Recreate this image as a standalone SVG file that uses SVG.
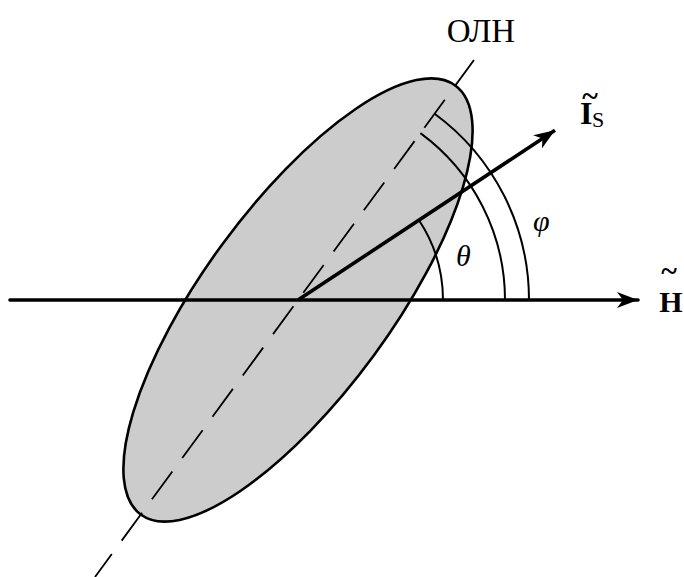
<svg xmlns="http://www.w3.org/2000/svg" width="684" height="577" viewBox="0 0 684 577">
<style>
.lbl{font-family:"Liberation Serif","Times New Roman",serif;fill:#000}
.it{font-style:italic}
.bd{font-weight:bold}
.arc{fill:none;stroke:#000;stroke-width:2}
</style>
<defs>
<marker id="ah" viewBox="-22 -9 24 18" markerWidth="24" markerHeight="18" refX="0" refY="0" orient="auto" markerUnits="userSpaceOnUse">
<path d="M0,0 L-21,-8 L-15,0 L-21,8 Z" fill="#000"/>
</marker>
</defs>
<rect width="684" height="577" fill="#fff"/>
<g id="domain">
<ellipse cx="298" cy="300" rx="266" ry="94" transform="rotate(-53.75 298 300)" fill="#cccccc" stroke="#000" stroke-width="2.6"/>
</g>
<g id="connectors">
<line id="easy-axis" x1="474" y1="60" x2="95" y2="577" stroke="#000" stroke-width="1.8" stroke-dasharray="34.5 16.7" stroke-dashoffset="1.8"/>
<path class="arc" d="M443,300 A145,145 0 0 0 419,220.2"/>
<path class="arc" d="M505,300 A207,207 0 0 0 420.4,133.1"/>
<path class="arc" d="M529,300 A231,231 0 0 0 434.6,113.7"/>
<line id="h-axis" x1="10" y1="300" x2="638" y2="300" stroke="#000" stroke-width="3.6" stroke-linecap="round" marker-end="url(#ah)"/>
<line id="is-vector" x1="298" y1="300" x2="555" y2="130.3" stroke="#000" stroke-width="3.6" marker-end="url(#ah)"/>
</g>
<g id="labels">
<text class="lbl" x="481" y="42" font-size="33" text-anchor="middle">ОЛН</text>
<g id="is-label"><text class="lbl bd" x="580" y="124" font-size="32">I</text><text class="lbl bd" x="590" y="106" font-size="30" text-anchor="middle">~</text><text class="lbl" x="592" y="127" font-size="22">S</text></g>
<g id="h-label"><text class="lbl bd" x="671" y="312" font-size="30" text-anchor="middle">H</text><text class="lbl bd" x="669" y="281" font-size="30" text-anchor="middle">~</text></g>
<text class="lbl it" x="456" y="266" font-size="30">θ</text>
<text class="lbl it" x="533" y="231" font-size="30">φ</text>
</g>
</svg>
